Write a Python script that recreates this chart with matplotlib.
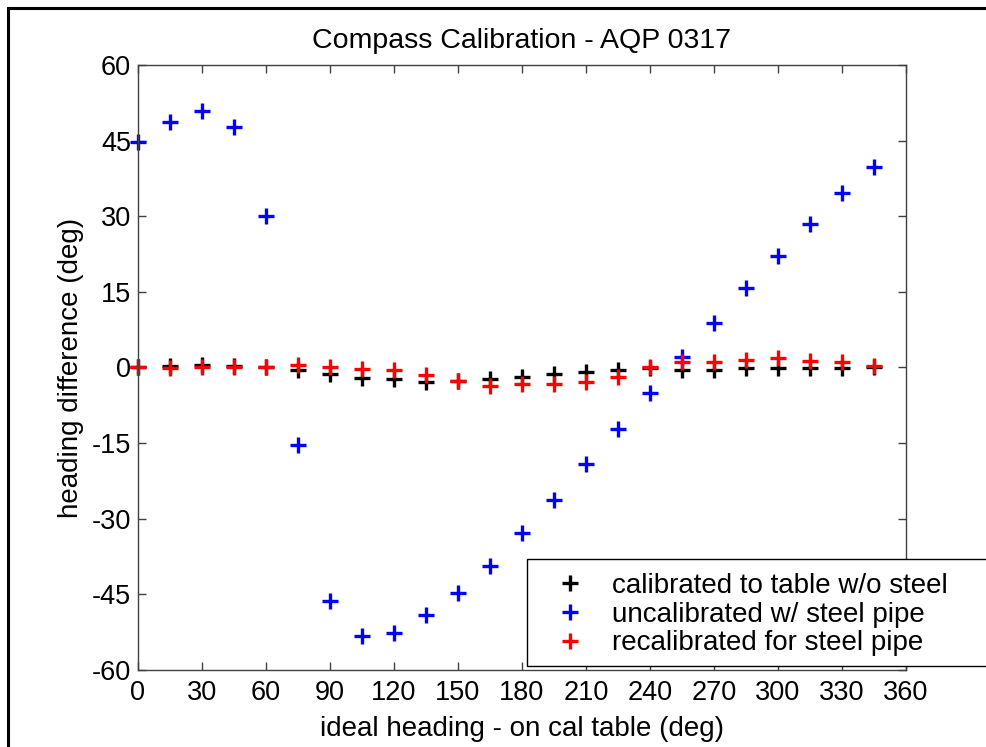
import numpy as np
import matplotlib.pyplot as plt
from matplotlib.patches import Rectangle

plt.rcParams['font.family'] = ['Liberation Sans', 'DejaVu Sans']
plt.rcParams['axes.unicode_minus'] = False

# ideal heading on the cal table (deg)
heading = np.arange(0, 360, 15)

# heading difference (deg)
cal_no_steel = [0.0, 0.3, 0.5, 0.3, 0.0, -0.5, -1.3, -2.1, -2.3, -2.8, -2.7, -2.2,
                -1.8, -1.2, -0.8, -0.4, -0.2, -0.4, -0.4, -0.2, -0.2, -0.2, -0.2, 0.0]
uncal_steel = [44.7, 48.6, 50.8, 47.7, 30.1, -15.4, -46.3, -53.3, -52.7, -49.1, -44.7, -39.4,
               -32.9, -26.3, -19.2, -12.2, -5.0, 2.1, 8.9, 15.7, 22.2, 28.5, 34.6, 39.8]
recal_steel = [0.0, -0.1, 0.0, 0.0, 0.1, 0.5, 0.0, -0.3, -0.5, -1.4, -2.6, -3.7,
               -3.3, -3.3, -2.9, -1.8, 0.0, 1.0, 1.0, 1.5, 1.8, 1.2, 1.0, 0.2]

labels = ['calibrated to table w/o steel', 'uncalibrated w/ steel pipe',
          'recalibrated for steel pipe']

fig = plt.figure(figsize=(9.87, 7.47), dpi=100)
ax = fig.add_axes([0.1398, 0.1031, 0.7781, 0.8099])

ms, mew = 12, 2.4
ax.plot(heading, cal_no_steel, '+', color='black', ms=ms, mew=mew, label=labels[0], clip_on=False)
ax.plot(heading, uncal_steel, '+', color='blue', ms=ms, mew=mew, label=labels[1], clip_on=False)
ax.plot(heading, recal_steel, '+', color='red', ms=ms, mew=mew, label=labels[2], clip_on=False)

ax.set_xlim(0, 360)
ax.set_ylim(-60, 60)
ax.set_xticks(np.arange(0, 361, 30))
ax.set_yticks(np.arange(-60, 61, 15))
ax.tick_params(direction='in', top=True, right=True, length=5.5, width=1,
               labelsize=19.5, color='#404040')
ax.tick_params(axis='x', pad=7.5)
ax.tick_params(axis='y', pad=5)
for s in ax.spines.values():
    s.set_color('#404040')
    s.set_linewidth(1)

ax.set_title('Compass Calibration - AQP 0317', fontsize=20.5, pad=12)
ax.set_xlabel('ideal heading - on cal table (deg)', fontsize=20, labelpad=7)
ax.set_ylabel('heading difference (deg)', fontsize=20, labelpad=5.5)

# legend box runs off the right edge of the figure, as in the screenshot
box_x, box_y = 527 / 987, 1 - 666 / 747
fig.patches.append(Rectangle((box_x, box_y), 0.6, 107 / 747, transform=fig.transFigure,
                             facecolor='white', edgecolor='black', linewidth=1,
                             zorder=3, clip_on=False))
leg = fig.legend(loc='lower left', bbox_to_anchor=(box_x, box_y), fontsize=20,
                 frameon=False, borderpad=0.35, handletextpad=0.3, labelspacing=0.1,
                 handlelength=2.4, borderaxespad=0)
leg.set_zorder(4)

# outer frame of the window capture
fig.patches.append(Rectangle((8 / 987, -0.2), 1.2, 1.2 - 8 / 747,
                             transform=fig.transFigure, fill=False,
                             edgecolor='black', linewidth=2.2, clip_on=False))

fig.savefig('out.png', dpi=100)
